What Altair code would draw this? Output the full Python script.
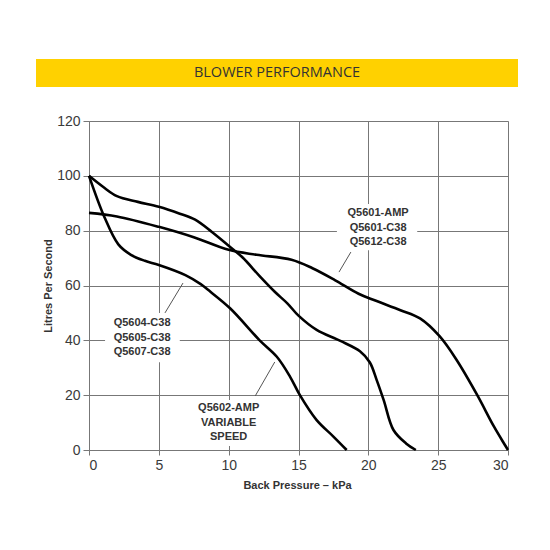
import altair as alt
import pandas as pd

# ---- data ----
a_x = [0, 2, 5, 7.5, 10, 12, 14.5, 16, 17.6, 19.3, 20.5, 22.3, 23.7, 25.1, 26.3, 27.8, 29, 30]
a_y = [86.5, 85.2, 81.4, 77.6, 73, 71.2, 69.4, 66.3, 62, 57, 54.5, 51, 48, 41.5, 33, 20, 8.5, 0]

b_x = [0, 1, 2, 3.5, 5, 6.5, 7.6, 8.8, 10, 11, 12.2, 13.3, 14.2, 15, 16.3, 18, 19.4, 20.1, 20.6, 21.1, 21.8, 22.7, 23.4]
b_y = [100, 96, 92.6, 90.5, 88.7, 86.2, 84, 79.5, 74.5, 70.2, 63.5, 57.7, 53.5, 49, 43.8, 39.8, 36, 32, 25.5, 18.2, 7.3, 2.4, 0]

c_x = [0, 1.1, 2.1, 3, 4, 5, 6.9, 8, 8.5, 10.1, 12.2, 13.45, 14.4, 15.1, 16.3, 17.5, 18.45]
c_y = [100, 85, 75, 71.2, 69, 67.5, 63.8, 60.5, 58.5, 51.7, 40.1, 34, 26.7, 20, 10.9, 4.9, 0]

series_names = ["Q5601", "Q5602", "Q5604"]

label_texts = ["Q5601-AMP\nQ5601-C38\nQ5612-C38",
               "Q5604-C38\nQ5605-C38\nQ5607-C38",
               "Q5602-AMP\nVARIABLE\nSPEED"]
label_x = [20.7, 3.8, 10.0]
label_y = [86.4, 46.3, 15.3]

box_x = [17.75, 1.15, 7.6]
box_x2 = [23.5, 6.5, 12.6]
box_y = [89.7, 50.0, 18.2]
box_y2 = [72.9, 32.0, 1.5]

lead_x = [18.75, 5.44, 11.9]
lead_y = [72.2, 50.0, 19.7]
lead_x2 = [17.9, 6.73, 13.3]
lead_y2 = [64.9, 60.9, 32.1]

x_ticks = [0, 5, 10, 15, 20, 25, 30]
y_ticks = [0, 20, 40, 60, 80, 100, 120]

title_text = "BLOWER PERFORMANCE"

# ---- tables ----
rows = []
for name, xs, ys in zip(series_names, [a_x, b_x, c_x], [a_y, b_y, c_y]):
    for i, (xv, yv) in enumerate(zip(xs, ys)):
        rows.append({"series": name, "i": i, "x": xv, "y": yv})
curves = pd.DataFrame(rows)

labels = pd.DataFrame({"x": label_x, "y": label_y, "t": label_texts})
boxes = pd.DataFrame({"x": box_x, "x2": box_x2, "y": box_y, "y2": box_y2})
leads = pd.DataFrame({"x": lead_x, "y": lead_y, "x2": lead_x2, "y2": lead_y2})
one = pd.DataFrame({"t": [title_text]})

xscale = alt.Scale(domain=[0, 30], nice=False)
yscale = alt.Scale(domain=[0, 120], nice=False)

grid_col = "#777777"

x_axis = alt.Axis(values=x_ticks, title="Back Pressure \u2013 kPa", grid=True,
                  gridColor=grid_col, domainColor=grid_col, tickColor=grid_col,
                  tickSize=5, labelPadding=3, labelFontSize=14, labelColor="#3a3a3a",
                  labelFont="Liberation Sans", titleFont="Liberation Sans",
                  titleFontSize=11, titleFontWeight="bold", titleColor="#333333",
                  titleX=208, titleY=35, titleBaseline="middle")
y_axis = alt.Axis(values=y_ticks, title="Litres Per Second", grid=True,
                  gridColor=grid_col, domainColor=grid_col, tickColor=grid_col,
                  tickSize=6, labelPadding=3, labelFontSize=14, labelColor="#3a3a3a",
                  labelFont="Liberation Sans", titleFont="Liberation Sans",
                  titleFontSize=11, titleFontWeight="bold", titleColor="#333333",
                  titleX=-41, titleY=164.5, titleBaseline="middle", titleAngle=-90)

lines = alt.Chart(curves).mark_line(interpolate="catmull-rom", color="black", strokeWidth=2.6).encode(
    x=alt.X("x:Q", scale=xscale, axis=x_axis),
    y=alt.Y("y:Q", scale=yscale, axis=y_axis),
    detail="series:N",
    order="i:Q",
)

box_layer = alt.Chart(boxes).mark_rect(color="white").encode(
    x=alt.X("x:Q", scale=xscale), x2="x2:Q",
    y=alt.Y("y:Q", scale=yscale), y2="y2:Q",
)

lead_layer = alt.Chart(leads).mark_rule(color="#555555", strokeWidth=1).encode(
    x=alt.X("x:Q", scale=xscale), x2="x2:Q",
    y=alt.Y("y:Q", scale=yscale), y2="y2:Q",
)

text_layer = alt.Chart(labels).mark_text(
    font="Liberation Sans", fontSize=11, fontWeight="bold", color="#333333",
    align="center", baseline="middle", lineBreak="\n", lineHeight=14.5,
).encode(
    x=alt.X("x:Q", scale=xscale), y=alt.Y("y:Q", scale=yscale), text="t:N"
)

band = alt.Chart(one).mark_rect(color="#FFD100", clip=False).encode(
    x=alt.value(-53), x2=alt.value(429), y=alt.value(-62), y2=alt.value(-34)
)
band_text = alt.Chart(one).mark_text(
    font="Open Sans", fontSize=14.5, color="#333333", align="center", baseline="middle"
).encode(x=alt.value(188), y=alt.value(-48), text="t:N")

chart = alt.layer(box_layer, lines, lead_layer, text_layer, band, band_text).properties(
    width=419, height=329,
    autosize=alt.AutoSizeParams(type="none"),
    padding={"left": 89, "top": 121, "right": 42, "bottom": 100},
).configure_view(stroke=None).configure(background="white")

chart.save("out.html", embed_options={"renderer": "svg", "actions": False})
